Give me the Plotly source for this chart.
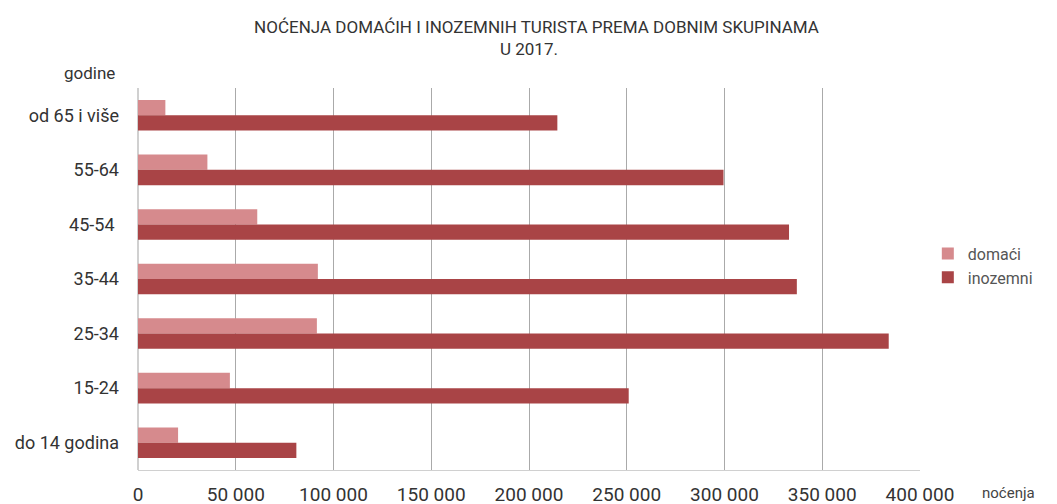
import plotly.graph_objects as go

# age groups, top to bottom as in the chart
age_groups = ["od 65 i više", "55-64", "45-54 ", "35-44", "25-34", "15-24", "do 14 godina"]
domaci = [14000, 35500, 61000, 92000, 91500, 47000, 20500]
inozemni = [214500, 299500, 333000, 337000, 384000, 251000, 81000]

x_ticks = [0, 50000, 100000, 150000, 200000, 250000, 300000, 350000, 400000]

font_family = "Roboto, Arial, sans-serif"

# the page puts the figure 8px in from the top-left corner, so margins allow for that
fig = go.Figure()
fig.add_trace(go.Bar(
    y=age_groups, x=domaci, name="domaći", orientation="h",
    marker=dict(color="#d68a8d", line=dict(width=0)),
))
fig.add_trace(go.Bar(
    y=age_groups, x=inozemni, name="inozemni", orientation="h",
    marker=dict(color="#a94446", line=dict(width=0)),
))

fig.update_layout(
    width=1057, height=504,
    margin=dict(l=130, r=145, t=80, b=42),
    paper_bgcolor="white", plot_bgcolor="white",
    font=dict(family=font_family, size=16, color="#333"),
    title=dict(
        text="NOĆENJA DOMAĆIH I INOZEMNIH TURISTA PREMA DOBNIM SKUPINAMA",
        x=0.5, xanchor="center", y=1 - 19 / 504, yanchor="middle",
        font=dict(size=17, color="#333"),
    ),
    barmode="group", bargap=0.44, bargroupgap=0,
    separators=", ",
    legend=dict(
        x=1.01, y=0.535, xanchor="left", yanchor="middle",
        font=dict(size=16, color="#555"), itemwidth=30,
        tracegroupgap=0,
    ),
    xaxis=dict(
        range=[0, 400000], tickvals=x_ticks, tickformat=",d",
        showgrid=True, gridcolor="#aaaaaa", gridwidth=1,
        showline=True, linecolor="#d0d0d0", zeroline=True, zerolinecolor="#d0d0d0",
        ticks="", ticklen=0, ticklabelstandoff=7,
        tickfont=dict(size=19, color="#333"),
        automargin=False, fixedrange=True,
    ),
    yaxis=dict(
        autorange="reversed", showgrid=False, ticks="", ticklabelstandoff=18,
        showline=False, tickfont=dict(size=18, color="#333"),
        automargin=False,
    ),
    showlegend=True,
)

fig.add_annotation(text="U 2017.", xref="paper", yref="paper", x=0.5, y=1,
                   xanchor="center", yanchor="middle", showarrow=False,
                   font=dict(size=17, color="#333"), yshift=39)
fig.add_annotation(text="godine", xref="paper", yref="paper", x=0, y=1,
                   xanchor="right", yanchor="middle", showarrow=False,
                   font=dict(size=17, color="#333"), xshift=-21, yshift=15)
fig.add_annotation(text="noćenja", xref="paper", yref="paper", x=1, y=0,
                   xanchor="left", yanchor="middle", showarrow=False,
                   font=dict(size=15, color="#444"), xshift=60, yshift=-23)

fig.write_html("out.html")
